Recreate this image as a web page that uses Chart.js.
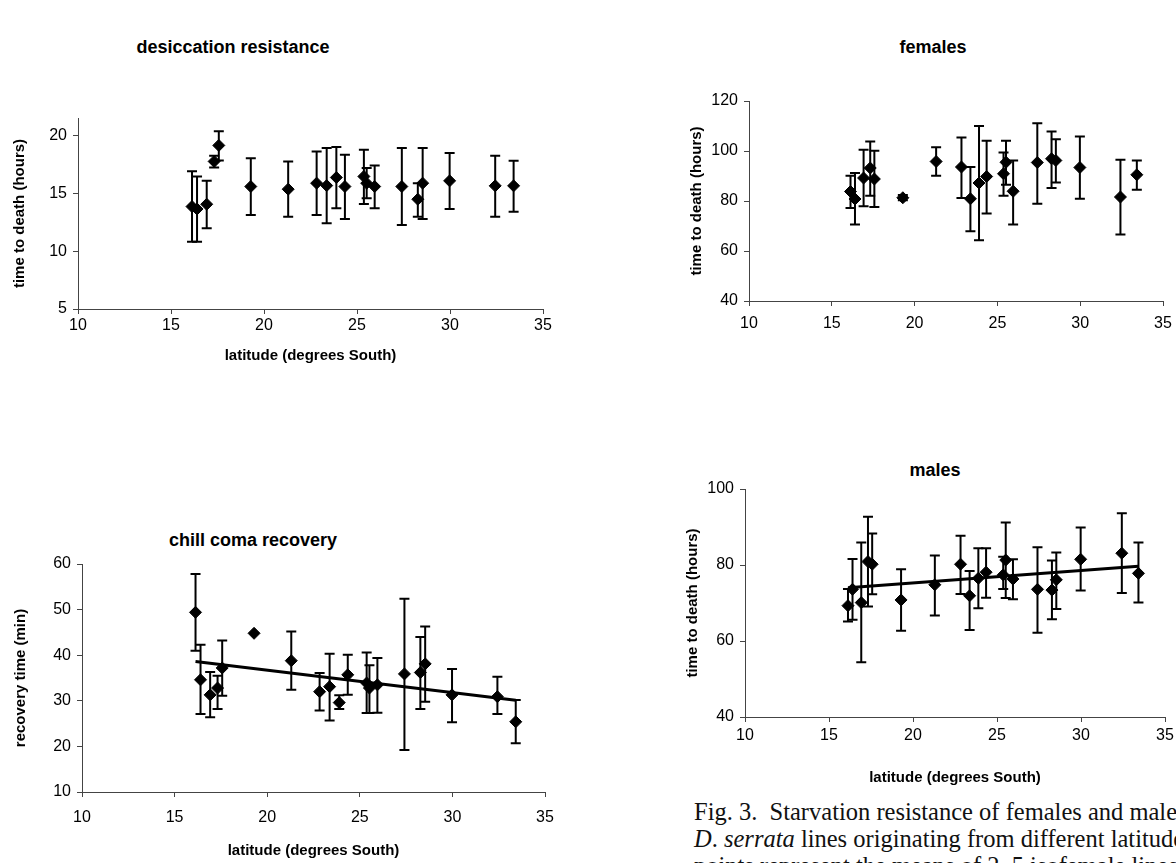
<!DOCTYPE html>
<html>
<head>
<meta charset="utf-8">
<script src="https://cdn.jsdelivr.net/npm/chart.js@4/dist/chart.umd.min.js"></script>
<style>
  body { margin: 0; background: #fff; width: 1176px; height: 863px; overflow: hidden; position: relative; font-family: "Liberation Sans", Arial, sans-serif; }
  canvas { position: absolute; }
  .ttl { position: absolute; width: 400px; text-align: center; font-weight: bold; font-size: 18px; line-height: 22px; color: #000; }
  .cap { position: absolute; left: 694px; top: 798px; font-family: "Liberation Serif", "Times New Roman", serif; font-size: 24.5px; line-height: 27px; white-space: nowrap; color: #111; }
</style>
</head>
<body>
<div class="ttl" style="left:33px; top:36px">desiccation resistance</div>
<div class="ttl" style="left:733px; top:36px">females</div>
<div class="ttl" style="left:53px; top:529px">chill coma recovery</div>
<div class="ttl" style="left:735px; top:459px">males</div>

<canvas id="desic" width="580" height="365" style="left:0; top:0"></canvas>
<canvas id="fem" width="496" height="340" style="left:680px; top:0"></canvas>
<canvas id="chill" width="580" height="320" style="left:0; top:540px"></canvas>
<canvas id="males" width="496" height="347" style="left:680px; top:440px"></canvas>

<div class="cap">
  Fig. 3.&nbsp; Starvation resistance of females and males of<br>
  <i>D</i>. <i>serrata</i> lines originating from different latitudes.<br>
  points represent the means of 2–5 isofemale lines
</div>

<script>
// latitude of origin for each line (same lines in every panel)
const latitudes = [16.13, 16.4, 16.92, 17.32, 17.57, 19.29, 21.3, 22.83, 23.37, 23.89,
                   24.35, 25.37, 25.52, 25.95, 27.41, 28.27, 28.53, 29.98, 32.43, 33.42];
const latTicks = [10, 15, 20, 25, 30, 35];

// desiccation resistance (hours)
const desicMean  = [13.85, 13.64, 14.05, 17.75, 19.13, 15.58, 15.35, 15.87, 15.66, 16.36,
                    15.58, 16.45, 15.87, 15.58, 15.58, 14.48, 15.87, 16.07, 15.64, 15.64];
const desicUpper = [16.9, 16.45, 16.07, 18.24, 20.35, 18.03, 17.75, 18.6, 18.9, 18.99,
                    18.32, 18.76, 17.17, 17.4, 18.9, 15.87, 18.9, 18.47, 18.24, 17.8];
const desicLower = [10.8, 10.8, 11.97, 17.23, 17.83, 13.12, 12.98, 13.12, 12.4, 13.7,
                    12.77, 14.08, 14.57, 13.7, 12.25, 12.98, 12.77, 13.64, 12.98, 13.41];
const desicTicks = [5, 10, 15, 20];

// starvation, females (hours)
const femMean  = [83.8, 80.8, 89.2, 93.2, 88.8, 81.3, 95.8, 93.6, 80.9, 87.2,
                  89.8, 90.9, 95.5, 83.9, 95.4, 96.9, 96.2, 93.4, 81.6, 90.5];
const femUpper = [90.1, 91.2, 100.5, 103.8, 100.1, 82.4, 101.5, 105.4, 93.6, 110.0,
                  104.1, 99.4, 104.1, 96.2, 111.1, 107.8, 104.7, 105.8, 96.5, 96.2];
const femLower = [77.2, 70.6, 77.9, 82.1, 77.6, 80.3, 90.1, 81.2, 67.9, 64.3,
                  75.0, 82.1, 86.5, 70.6, 78.9, 85.2, 87.4, 80.9, 66.6, 84.5];
const femTicks = [40, 60, 80, 100, 120];

// chill coma recovery (min)
const chillMean  = [49.4, 34.6, 31.3, 32.8, 37.2, 44.8, 38.8, 32.0, 33.1, 29.6,
                    35.7, 33.9, 32.8, 33.5, 35.9, 36.2, 38.1, 31.3, 30.9, 25.4];
const chillUpper = [57.8, 42.3, 36.3, 35.5, 43.2, null, 45.2, 36.1, 40.3, 31.2,
                    40.1, 40.6, 37.8, 39.4, 52.4, 44.0, 46.3, 37.0, 35.3, 30.2];
const chillLower = [41.0, 27.1, 26.4, 28.2, 31.1, null, 32.4, 27.9, 25.7, 28.2,
                    31.3, 27.3, 27.3, 27.4, 19.2, 28.2, 29.8, 25.3, 27.1, 20.7];
const chillTicks = [10, 20, 30, 40, 50, 60];
const chillTrend = [38.6, 30.1];

// starvation, males (hours)
const malesMean  = [69.3, 73.6, 70.1, 80.9, 80.2, 70.8, 74.8, 80.2, 71.9, 76.5,
                    78.1, 77.4, 81.3, 76.3, 73.6, 73.4, 76.1, 81.5, 83.1, 77.8];
const malesUpper = [73.7, 81.6, 85.9, 92.7, 88.3, 78.9, 82.5, 87.7, 78.4, 84.4,
                    84.4, 82.2, 91.2, 81.5, 84.7, 81.2, 83.3, 89.9, 93.6, 85.9];
const malesLower = [65.1, 65.6, 54.4, 69.1, 72.3, 62.7, 66.7, 72.4, 62.9, 68.6,
                    71.4, 73.7, 71.3, 71.0, 62.2, 65.7, 68.4, 73.3, 72.6, 70.1];
const malesTicks = [40, 60, 80, 100];
const malesTrend = [74.0, 79.7];

// trend lines run from the first to the last line's latitude
const trendLat = [latitudes[0], latitudes[latitudes.length - 1]];

const errorBars = {
  id: 'errorBars',
  beforeDatasetsDraw(chart, args, opts) {
    if (!opts.upper) return;
    const { ctx, scales: { x, y } } = chart;
    ctx.save();
    ctx.strokeStyle = '#000';
    ctx.lineWidth = 2;
    latitudes.forEach((lat, i) => {
      const hi = opts.upper[i], lo = opts.lower[i];
      if (hi == null || lo == null) return;
      const px = x.getPixelForValue(lat);
      const top = y.getPixelForValue(hi);
      const bot = y.getPixelForValue(lo);
      ctx.beginPath();
      ctx.moveTo(px, top); ctx.lineTo(px, bot);
      ctx.moveTo(px - 5, top); ctx.lineTo(px + 5, top);
      ctx.moveTo(px - 5, bot); ctx.lineTo(px + 5, bot);
      ctx.stroke();
    });
    ctx.restore();
  }
};

const tickFont = { family: '"Liberation Sans", Arial, sans-serif', size: 16 };
const titleFont = { family: '"Liberation Sans", Arial, sans-serif', size: 15, weight: 'bold' };

function makePanel(id, p) {
  const datasets = [{
    data: latitudes.map((lat, i) => ({ x: lat, y: p.mean[i] })),
    pointStyle: 'rectRot',
    pointRadius: 6,
    backgroundColor: '#000',
    borderColor: '#000',
    borderWidth: 1
  }];
  if (p.trend) {
    datasets.push({
      type: 'line',
      data: trendLat.map((lat, i) => ({ x: lat, y: p.trend[i] })),
      borderColor: '#000',
      borderWidth: 3,
      pointRadius: 0,
      fill: false
    });
  }
  new Chart(document.getElementById(id), {
    type: 'scatter',
    data: { datasets },
    plugins: [errorBars],
    options: {
      responsive: false,
      animation: false,
      layout: { padding: { top: p.padTop, right: p.padRight, left: 0, bottom: 0 } },
      scales: {
        x: {
          type: 'linear',
          min: 10,
          max: 35,
          afterBuildTicks: s => { s.ticks = latTicks.map(v => ({ value: v })); },
          afterFit: s => { s.height = p.xh; s.paddingLeft = 0; s.paddingRight = 0; },
          ticks: { color: '#000', font: tickFont, padding: p.xPad, maxRotation: 0 },
          grid: { drawOnChartArea: false, tickLength: 5, color: '#444' },
          border: { color: '#444', width: 1 },
          title: { display: p.xTitle, text: 'latitude (degrees South)', color: '#000', font: titleFont, padding: { top: 0, bottom: 0 } }
        },
        y: {
          type: 'linear',
          min: p.yTicks[0],
          max: p.yMax,
          afterBuildTicks: s => { s.ticks = p.yTicks.map(v => ({ value: v })); },
          afterFit: s => { s.width = p.yw; s.paddingTop = 0; s.paddingBottom = 0; },
          ticks: { color: '#000', font: tickFont, padding: 6 },
          grid: { drawOnChartArea: false, tickLength: 5, color: '#444' },
          border: { color: '#444', width: 1 },
          title: { display: true, text: p.yTitle, color: '#000', font: titleFont, padding: { top: p.yTitlePad, bottom: 0 } }
        }
      },
      plugins: {
        legend: { display: false },
        tooltip: { enabled: false },
        errorBars: { upper: p.upper, lower: p.lower }
      }
    }
  });
}

makePanel('desic', {
  mean: desicMean, upper: desicUpper, lower: desicLower,
  yTicks: desicTicks, yMax: 21.5, yTitle: 'time to death (hours)', xTitle: true,
  padTop: 118, padRight: 37, yw: 78, xh: 56, xPad: 2, yTitlePad: 11
});

makePanel('fem', {
  mean: femMean, upper: femUpper, lower: femLower,
  yTicks: femTicks, yMax: 120, yTitle: 'time to death (hours)', xTitle: false,
  padTop: 101, padRight: 13, yw: 69, xh: 39, xPad: 8, yTitlePad: 8
});

makePanel('chill', {
  mean: chillMean, upper: chillUpper, lower: chillLower, trend: chillTrend,
  yTicks: chillTicks, yMax: 60, yTitle: 'recovery time (min)', xTitle: true,
  padTop: 24, padRight: 35, yw: 82, xh: 68, xPad: 11, yTitlePad: 12
});

makePanel('males', {
  mean: malesMean, upper: malesUpper, lower: malesLower, trend: malesTrend,
  yTicks: malesTicks, yMax: 100, yTitle: 'time to death (hours)', xTitle: true,
  padTop: 49, padRight: 11, yw: 65, xh: 70, xPad: 4, yTitlePad: 4
});
</script>
</body>
</html>
